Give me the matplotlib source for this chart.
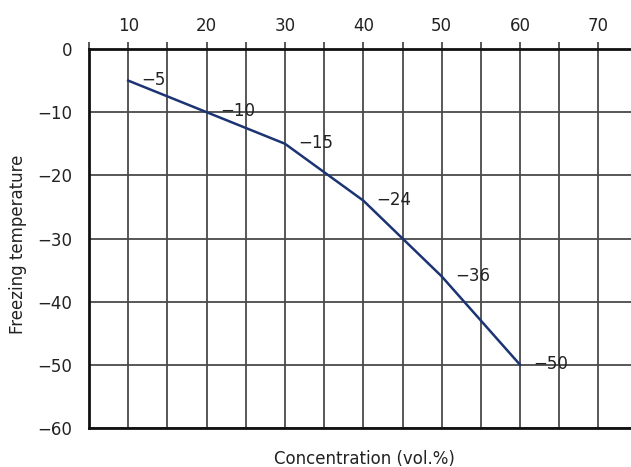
import matplotlib
matplotlib.use("Agg")
from matplotlib import pyplot as plt
from matplotlib.ticker import MultipleLocator

# data
concentration = [10, 20, 30, 40, 50, 60]
freezing_temp = [-5, -10, -15, -24, -36, -50]
point_labels = ["\u22125", "\u221210", "\u221215", "\u221224", "\u221236", "\u221250"]

x_ticks = [10, 20, 30, 40, 50, 60, 70]
y_ticks = [0, -10, -20, -30, -40, -50, -60]

plt.rcParams['font.family'] = ['DejaVu Sans']
FS = 12

fig = plt.figure(figsize=(6.31, 4.67), dpi=100)
ax = fig.add_axes([89 / 631, 1 - 428 / 467, 1 - 89 / 631, (428 - 49) / 467])

ax.set_xlim(5, 74.15)
ax.set_ylim(-60, 0)

# grid: vertical every 5, horizontal every 10
ax.xaxis.set_minor_locator(MultipleLocator(5))
ax.grid(True, which='both', axis='x', color='#4a4a4a', lw=1.3)
ax.grid(True, which='major', axis='y', color='#4a4a4a', lw=1.3)
ax.set_axisbelow(True)

ax.plot(concentration, freezing_temp, color='#1c3473', lw=1.8, zorder=3)
for x, y, lab in zip(concentration, freezing_temp, point_labels):
    ax.annotate(lab, (x, y), xytext=(9.5, 0.5), textcoords='offset points',
                ha='left', va='center', fontsize=FS, color='#222222', zorder=4)

ax.xaxis.tick_top()
ax.set_xticks(x_ticks)
ax.set_yticks(y_ticks)
ax.set_yticklabels([str(v).replace('-', '\u2212') for v in y_ticks])
ax.tick_params(axis='x', which='both', length=5, width=1.3, color='#4a4a4a',
               pad=5, labelsize=FS, labelcolor='#222222')
ax.tick_params(axis='y', length=0, pad=12, labelsize=FS, labelcolor='#222222')

for side in ['left', 'top', 'bottom']:
    ax.spines[side].set_linewidth(2.0)
    ax.spines[side].set_color('#111111')
ax.spines['right'].set_visible(False)

fig.text(364 / 631, 1 - 459 / 467, 'Concentration (vol.%)', ha='center',
         va='center', fontsize=FS, color='#222222')
fig.text(18 / 631, 1 - 244 / 467, 'Freezing temperature', ha='center',
         va='center', rotation=90, fontsize=FS, color='#222222')

fig.savefig('out.png', dpi=100)
